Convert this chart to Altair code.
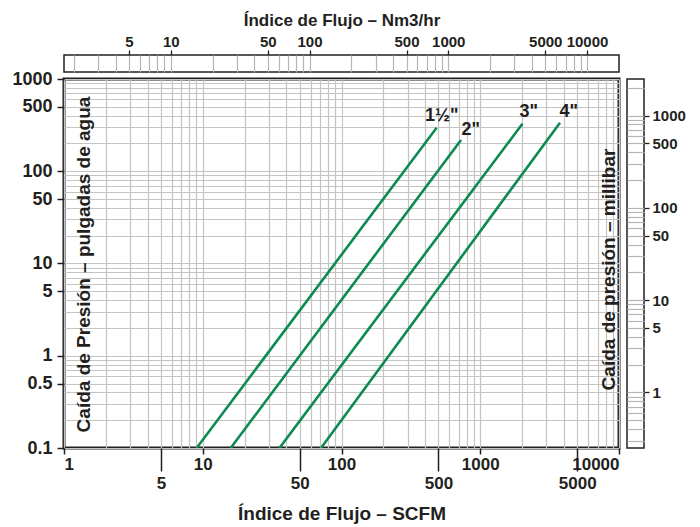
import json
import altair as alt
import pandas as pd

# ---------------- data ----------------
sizes = ['1½"', '2"', '3"', '4"']
flow_start = [9.04, 15.9, 35.7, 71.2]      # SCFM at 0.1 in. water
flow_end = [485, 727, 2014, 3757]           # SCFM at end of line
dp_start = [0.1, 0.1, 0.1, 0.1]             # in. water
dp_end = [296, 218, 327, 336]               # in. water
label_flow = [528, 853, 2234, 4337]
label_dp = [397, 280, 439, 439]

x_labels_row1 = [1, 10, 100, 1000, 10000]
x_labels_row2 = [5, 50, 500, 5000]
y_labels = [0.1, 0.5, 1, 5, 10, 50, 100, 500, 1000]
nm3_labels = [5, 10, 50, 100, 500, 1000, 5000, 10000]
mbar_labels = [1, 5, 10, 50, 100, 500, 1000]

scfm_domain = [1, 10000]
dp_domain = [0.1, 1000]
nm3_domain = [1.70, 17000]
mbar_domain = [0.249, 2490]

# ---------------- styling ----------------
FONT = "Liberation Sans"
INK = "#231f20"
GREEN = "#0b8a52"
GRID = "#c4c4c4"


def log_grid(lo, hi):
    vals = []
    for k in range(-2, 6):
        for m in range(1, 10):
            v = round(m * 10.0 ** k, 6)
            if lo - 1e-9 <= v <= hi + 1e-9:
                vals.append(v)
    return vals


def in_list(vals):
    return f"indexof({json.dumps(vals)}, datum.value) >= 0"


def cond(vals, yes, no):
    return {"condition": {"test": in_list(vals), "value": yes}, "value": no}


def lbl(vals):
    return f"{in_list(vals)} ? '' + datum.value : ''"


x_grid = log_grid(*scfm_domain)
y_grid = log_grid(*dp_domain)
nm3_grid = log_grid(*nm3_domain)
mbar_grid = log_grid(*mbar_domain)

rows = []
for s, f0, f1, d0, d1 in zip(sizes, flow_start, flow_end, dp_start, dp_end):
    rows.append({"size": s, "flow": f0, "dp": d0})
    rows.append({"size": s, "flow": f1, "dp": d1})
df_lines = pd.DataFrame(rows)
df_labels = pd.DataFrame({"size": sizes, "flow": label_flow, "dp": label_dp})

xscale = alt.Scale(type="log", domain=scfm_domain, nice=False)
yscale = alt.Scale(type="log", domain=dp_domain, nice=False)

lab = dict(labelFont=FONT, labelFontWeight="bold", labelColor=INK, labelOverlap=False)

lines = alt.Chart(df_lines).mark_line(color=GREEN, strokeWidth=2.6, clip=True).encode(
    x=alt.X("flow:Q", scale=xscale, axis=alt.Axis(
        orient="bottom", values=x_grid, grid=True, gridColor=GRID, gridWidth=1.2,
        domain=False, tickSize=6, tickWidth=1.5, tickColor=INK,
        tickOpacity=cond(x_labels_row1, 1, 0), labelExpr=lbl(x_labels_row1),
        labelPadding=2, labelFontSize=17, title=None, **lab)),
    y=alt.Y("dp:Q", scale=yscale, axis=alt.Axis(
        orient="left", values=y_grid, grid=True, gridColor=GRID, gridWidth=1.2,
        domain=False, tickSize=7, tickWidth=1.5, tickColor=INK,
        tickOpacity=cond(y_labels, 1, 0), labelExpr=lbl(y_labels),
        labelPadding=5, labelFontSize=18,
        title="Caída de Presión – pulgadas de agua", titleFont=FONT,
        titleFontSize=19, titleFontWeight="bold", titleColor=INK,
        titleAngle=270, titleBaseline="bottom", titleAlign="center",
        titleX=29, titleY=185, **lab)),
    detail="size:N",
)

texts = alt.Chart(df_labels).mark_text(
    font=FONT, fontSize=18, fontWeight="bold", color=INK
).encode(
    x=alt.X("flow:Q", scale=xscale, axis=None),
    y=alt.Y("dp:Q", scale=yscale, axis=alt.Axis(
        orient="right", labels=False, ticks=False, domain=False, grid=False,
        title="Caída de presión – millibar", titleFont=FONT, titleFontSize=19,
        titleFontWeight="bold", titleColor=INK, titleAngle=270,
        titleBaseline="bottom", titleAlign="center", titleX=-1, titleY=190)),
    text="size:N",
)

x5 = alt.Chart(pd.DataFrame({"v": x_labels_row2})).mark_point(opacity=0).encode(
    x=alt.X("v:Q", scale=xscale, axis=alt.Axis(
        orient="bottom", values=x_labels_row2, grid=False, domain=False,
        tickSize=23, tickWidth=1.5, tickColor=INK, labelPadding=4,
        labelFontSize=17, format="d",
        title="Índice de Flujo – SCFM", titleFont=FONT, titleFontSize=19,
        titleFontWeight="bold", titleColor=INK, titlePadding=13, **lab)),
)

main = alt.layer(lines, texts, x5).resolve_axis(
    x="independent", y="independent"
).properties(width=555, height=369,
             view=alt.ViewBackground(stroke=INK, strokeWidth=3))

top = alt.Chart(pd.DataFrame({"v": nm3_grid})).mark_point(opacity=0).encode(
    x=alt.X("v:Q", scale=alt.Scale(type="log", domain=nm3_domain, nice=False),
            axis=alt.Axis(
                orient="top", values=nm3_grid, grid=True, gridColor="#b5b5b5",
                gridWidth=1.2, domain=False, tickSize=5, tickWidth=1.3, tickColor=INK,
                tickOpacity=cond(nm3_labels, 1, 0), labelExpr=lbl(nm3_labels),
                labelPadding=1, labelFontSize=15,
                title="Índice de Flujo – Nm3/hr", titleFont=FONT, titleFontSize=17,
                titleFontWeight="bold", titleColor=INK, titlePadding=5, **lab)),
).properties(width=555, height=17,
             view=alt.ViewBackground(stroke=INK, strokeWidth=1.5))

right = alt.Chart(pd.DataFrame({"v": mbar_grid})).mark_point(opacity=0).encode(
    y=alt.Y("v:Q", scale=alt.Scale(type="log", domain=mbar_domain, nice=False),
            axis=alt.Axis(
                orient="right", values=mbar_grid, grid=True, gridColor="#b5b5b5",
                gridWidth=1.2, domain=False, tickSize=5, tickWidth=1.3, tickColor=INK,
                tickOpacity=cond(mbar_labels, 1, 0), labelExpr=lbl(mbar_labels),
                labelPadding=3, labelFontSize=15, title=None, **lab)),
).properties(width=17, height=369,
             view=alt.ViewBackground(stroke=INK, strokeWidth=1.5))

chart = alt.vconcat(
    top,
    alt.hconcat(main, right, spacing=8, bounds="flush"),
    spacing=7, bounds="flush",
).properties(
    padding={"left": 2, "top": 2, "right": 2, "bottom": 0}
).configure_text(font=FONT)

chart.save("out.html", embed_options={"renderer": "svg", "actions": False})
